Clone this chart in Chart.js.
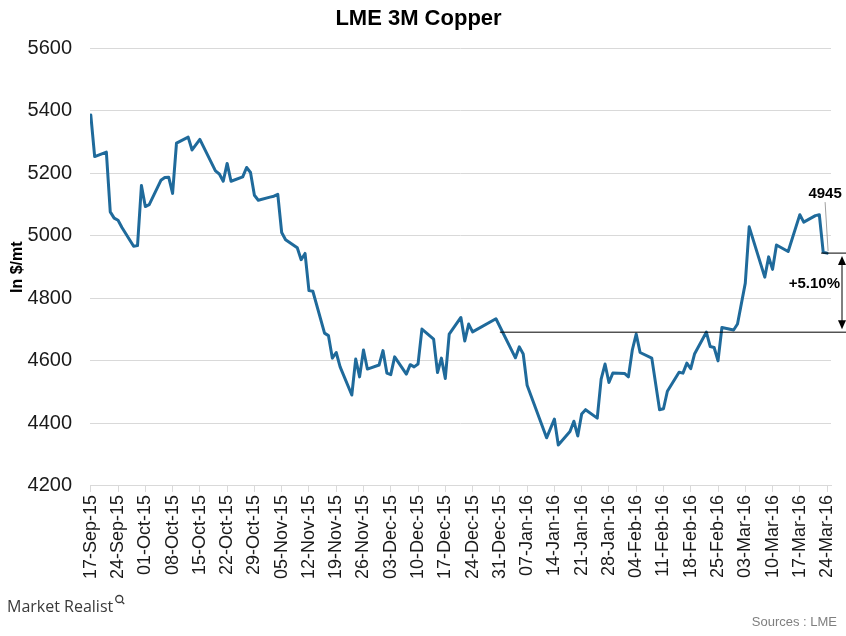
<!DOCTYPE html>
<html>
<head>
<meta charset="utf-8">
<script src="https://cdn.jsdelivr.net/npm/chart.js@4/dist/chart.umd.min.js"></script>
<style>
  html, body { margin: 0; padding: 0; background: #fff; }
  canvas { display: block; }
</style>
</head>
<body>
<canvas id="copper" width="846" height="636"></canvas>
<script>
// LME 3M copper, $/mt
const dates = [
  '2015-09-17','2015-09-18','2015-09-21','2015-09-22','2015-09-23','2015-09-24','2015-09-25',
  '2015-09-28','2015-09-29','2015-09-30','2015-10-01','2015-10-02','2015-10-05','2015-10-06',
  '2015-10-07','2015-10-08','2015-10-09','2015-10-12','2015-10-13','2015-10-15','2015-10-19',
  '2015-10-20','2015-10-21','2015-10-22','2015-10-23','2015-10-26','2015-10-27','2015-10-28',
  '2015-10-29','2015-10-30','2015-11-02','2015-11-03','2015-11-04','2015-11-05','2015-11-06',
  '2015-11-09','2015-11-10','2015-11-11','2015-11-12','2015-11-13','2015-11-16','2015-11-17',
  '2015-11-18','2015-11-19','2015-11-20','2015-11-23','2015-11-24','2015-11-25','2015-11-26',
  '2015-11-27','2015-11-30','2015-12-01','2015-12-02','2015-12-03','2015-12-04','2015-12-07',
  '2015-12-08','2015-12-09','2015-12-10','2015-12-11','2015-12-14','2015-12-15','2015-12-16',
  '2015-12-17','2015-12-18','2015-12-21','2015-12-22','2015-12-23','2015-12-24','2015-12-30',
  '2016-01-04','2016-01-05','2016-01-06','2016-01-07','2016-01-12','2016-01-14','2016-01-15',
  '2016-01-18','2016-01-19','2016-01-20','2016-01-21','2016-01-22','2016-01-25','2016-01-26',
  '2016-01-27','2016-01-28','2016-01-29','2016-02-01','2016-02-02','2016-02-03','2016-02-04',
  '2016-02-05','2016-02-08','2016-02-10','2016-02-11','2016-02-12','2016-02-15','2016-02-16',
  '2016-02-17','2016-02-18','2016-02-19','2016-02-22','2016-02-23','2016-02-24','2016-02-25',
  '2016-02-26','2016-02-29','2016-03-01','2016-03-03','2016-03-04','2016-03-08','2016-03-09',
  '2016-03-10','2016-03-11','2016-03-14','2016-03-17','2016-03-18','2016-03-21','2016-03-22',
  '2016-03-23','2016-03-24'
];
const prices = [
  5387,5254,5268,5077,5057,5050,5027,
  4967,4969,5161,5094,5100,5178,5187,
  5188,5136,5297,5316,5275,5309,5208,
  5198,5175,5232,5175,5189,5219,5203,
  5130,5114,5124,5127,5133,5011,4988,
  4962,4924,4944,4825,4823,4689,4681,
  4609,4627,4581,4491,4606,4549,4635,
  4574,4587,4633,4561,4556,4613,4558,
  4588,4581,4590,4702,4670,4563,4609,
  4544,4686,4739,4664,4718,4693,4735,
  4610,4645,4622,4522,4354,4414,4331,
  4374,4407,4360,4430,4444,4417,4542,
  4590,4531,4561,4560,4549,4635,4686,
  4627,4609,4444,4447,4503,4564,4561,
  4593,4575,4623,4692,4646,4643,4600,
  4707,4699,4718,4849,5029,4868,4933,
  4893,4971,4950,5068,5044,5065,5068,
  4948,4945
];
const tickLabels = [
  '17-Sep-15','24-Sep-15','01-Oct-15','08-Oct-15','15-Oct-15','22-Oct-15','29-Oct-15',
  '05-Nov-15','12-Nov-15','19-Nov-15','26-Nov-15','03-Dec-15','10-Dec-15','17-Dec-15',
  '24-Dec-15','31-Dec-15','07-Jan-16','14-Jan-16','21-Jan-16','28-Jan-16','04-Feb-16',
  '11-Feb-16','18-Feb-16','25-Feb-16','03-Mar-16','10-Mar-16','17-Mar-16','24-Mar-16'
];
const yTicks = [4200, 4400, 4600, 4800, 5000, 5200, 5400, 5600];
const baseDate = '2015-12-31';
const baseValue = 4692;
const changeLabel = '+5.10%';

const months = ['Jan','Feb','Mar','Apr','May','Jun','Jul','Aug','Sep','Oct','Nov','Dec'];
const start = Date.UTC(2015, 8, 17);
const toDay = s => (Date.parse(s) - start) / 86400000;
const labelToDay = l => {
  const [d, m, y] = l.split('-');
  return (Date.UTC(2000 + +y, months.indexOf(m), +d) - start) / 86400000;
};
const tickDays = tickLabels.map(labelToDay);
const points = dates.map((d, i) => ({ x: toDay(d), y: prices[i] }));

const annotate = {
  id: 'annotate',
  afterDatasetsDraw(chart) {
    const { ctx, chartArea, scales: { x, y } } = chart;
    const lastVal = prices[prices.length - 1];
    const xLast = x.getPixelForValue(toDay(dates[dates.length - 1]));
    const yLast = y.getPixelForValue(lastVal);
    const yBase = y.getPixelForValue(baseValue);
    const xBase = x.getPixelForValue(toDay(baseDate));
    ctx.save();
    ctx.strokeStyle = '#000';
    ctx.lineWidth = 1;
    ctx.beginPath();
    ctx.moveTo(xBase, yBase); ctx.lineTo(chart.width, yBase);
    ctx.moveTo(xLast - 6, yLast); ctx.lineTo(chart.width, yLast);
    ctx.stroke();

    // double arrow
    const ax = chartArea.right + 11;
    ctx.beginPath();
    ctx.moveTo(ax, yLast + 8); ctx.lineTo(ax, yBase - 8);
    ctx.stroke();
    ctx.fillStyle = '#000';
    ctx.beginPath();
    ctx.moveTo(ax, yLast + 3); ctx.lineTo(ax - 4, yLast + 12); ctx.lineTo(ax + 4, yLast + 12);
    ctx.closePath(); ctx.fill();
    ctx.beginPath();
    ctx.moveTo(ax, yBase - 3); ctx.lineTo(ax - 4, yBase - 12); ctx.lineTo(ax + 4, yBase - 12);
    ctx.closePath(); ctx.fill();

    // leader to last value
    ctx.strokeStyle = '#a0a0a0';
    ctx.beginPath();
    ctx.moveTo(xLast - 2, yLast - 51); ctx.lineTo(xLast + 1, yLast - 2);
    ctx.stroke();

    ctx.fillStyle = '#000';
    ctx.font = 'bold 15px "Liberation Sans", Arial, sans-serif';
    ctx.textAlign = 'center';
    ctx.textBaseline = 'middle';
    ctx.fillText(String(lastVal), xLast - 2, yLast - 59);
    ctx.textAlign = 'right';
    ctx.fillText(changeLabel, chartArea.right + 9, (yLast + yBase) / 2 - 9);
    ctx.restore();
  },
  afterDraw(chart) {
    const { ctx } = chart;
    ctx.save();
    ctx.fillStyle = '#3a3a3a';
    ctx.font = '16px "Open Sans", sans-serif';
    ctx.textBaseline = 'middle';
    ctx.textAlign = 'left';
    ctx.fillText('Market Realist', 7, 607);
    const w = ctx.measureText('Market Realist').width;
    ctx.strokeStyle = '#3a3a3a';
    ctx.lineWidth = 1.3;
    ctx.beginPath();
    ctx.arc(7 + w + 6, 599, 3.5, 0, Math.PI * 2);
    ctx.moveTo(7 + w + 8.5, 601.5); ctx.lineTo(7 + w + 11, 604);
    ctx.stroke();

    ctx.fillStyle = '#7f7f7f';
    ctx.font = '13px "Liberation Sans", Arial, sans-serif';
    ctx.textAlign = 'right';
    ctx.fillText('Sources : LME', 837, 622);
    ctx.restore();
  }
};

new Chart(document.getElementById('copper'), {
  type: 'line',
  data: {
    datasets: [{
      label: 'LME 3M Copper',
      data: points,
      borderColor: '#1f6a9b',
      borderWidth: 3,
      borderJoinStyle: 'round',
      borderCapStyle: 'round',
      pointRadius: 0,
      tension: 0,
      fill: false
    }]
  },
  options: {
    responsive: false,
    animation: false,
    layout: { padding: { left: 6, right: 15, top: 0, bottom: 54 } },
    plugins: {
      legend: { display: false },
      tooltip: { enabled: false },
      title: {
        display: true,
        text: 'LME 3M Copper',
        color: '#000',
        font: { family: '"Liberation Sans", Arial, sans-serif', size: 22, weight: 'bold' },
        padding: { top: 6, bottom: 16 }
      }
    },
    scales: {
      x: {
        type: 'linear',
        min: -0.2,
        max: 190,
        afterBuildTicks: sc => { sc.ticks = tickDays.map(v => ({ value: v })); },
        afterFit: sc => { sc.paddingRight = 0; sc.paddingLeft = 0; },
        ticks: {
          autoSkip: false,
          maxRotation: 90,
          minRotation: 90,
          padding: 3,
          color: '#1a1a1a',
          font: { family: '"Liberation Sans", Arial, sans-serif', size: 18 },
          callback: v => tickLabels[tickDays.indexOf(v)]
        },
        grid: { drawOnChartArea: false, drawTicks: true, tickLength: 6, color: '#d9d9d9' },
        border: { display: true, color: '#d9d9d9' }
      },
      y: {
        min: 4200,
        max: 5600,
        afterBuildTicks: sc => { sc.ticks = yTicks.map(v => ({ value: v })); },
        afterFit: sc => { sc.width = 84; },
        ticks: {
          padding: 18,
          color: '#1a1a1a',
          font: { family: '"Liberation Sans", Arial, sans-serif', size: 20 },
          callback: v => String(v)
        },
        grid: { color: '#d9d9d9', drawTicks: false },
        border: { display: false },
        title: {
          display: true,
          text: 'In $/mt',
          color: '#000',
          font: { family: '"Liberation Sans", Arial, sans-serif', size: 16, weight: 'bold' },
          padding: { top: 2, bottom: 0 }
        }
      }
    }
  },
  plugins: [annotate]
});
</script>
</body>
</html>
